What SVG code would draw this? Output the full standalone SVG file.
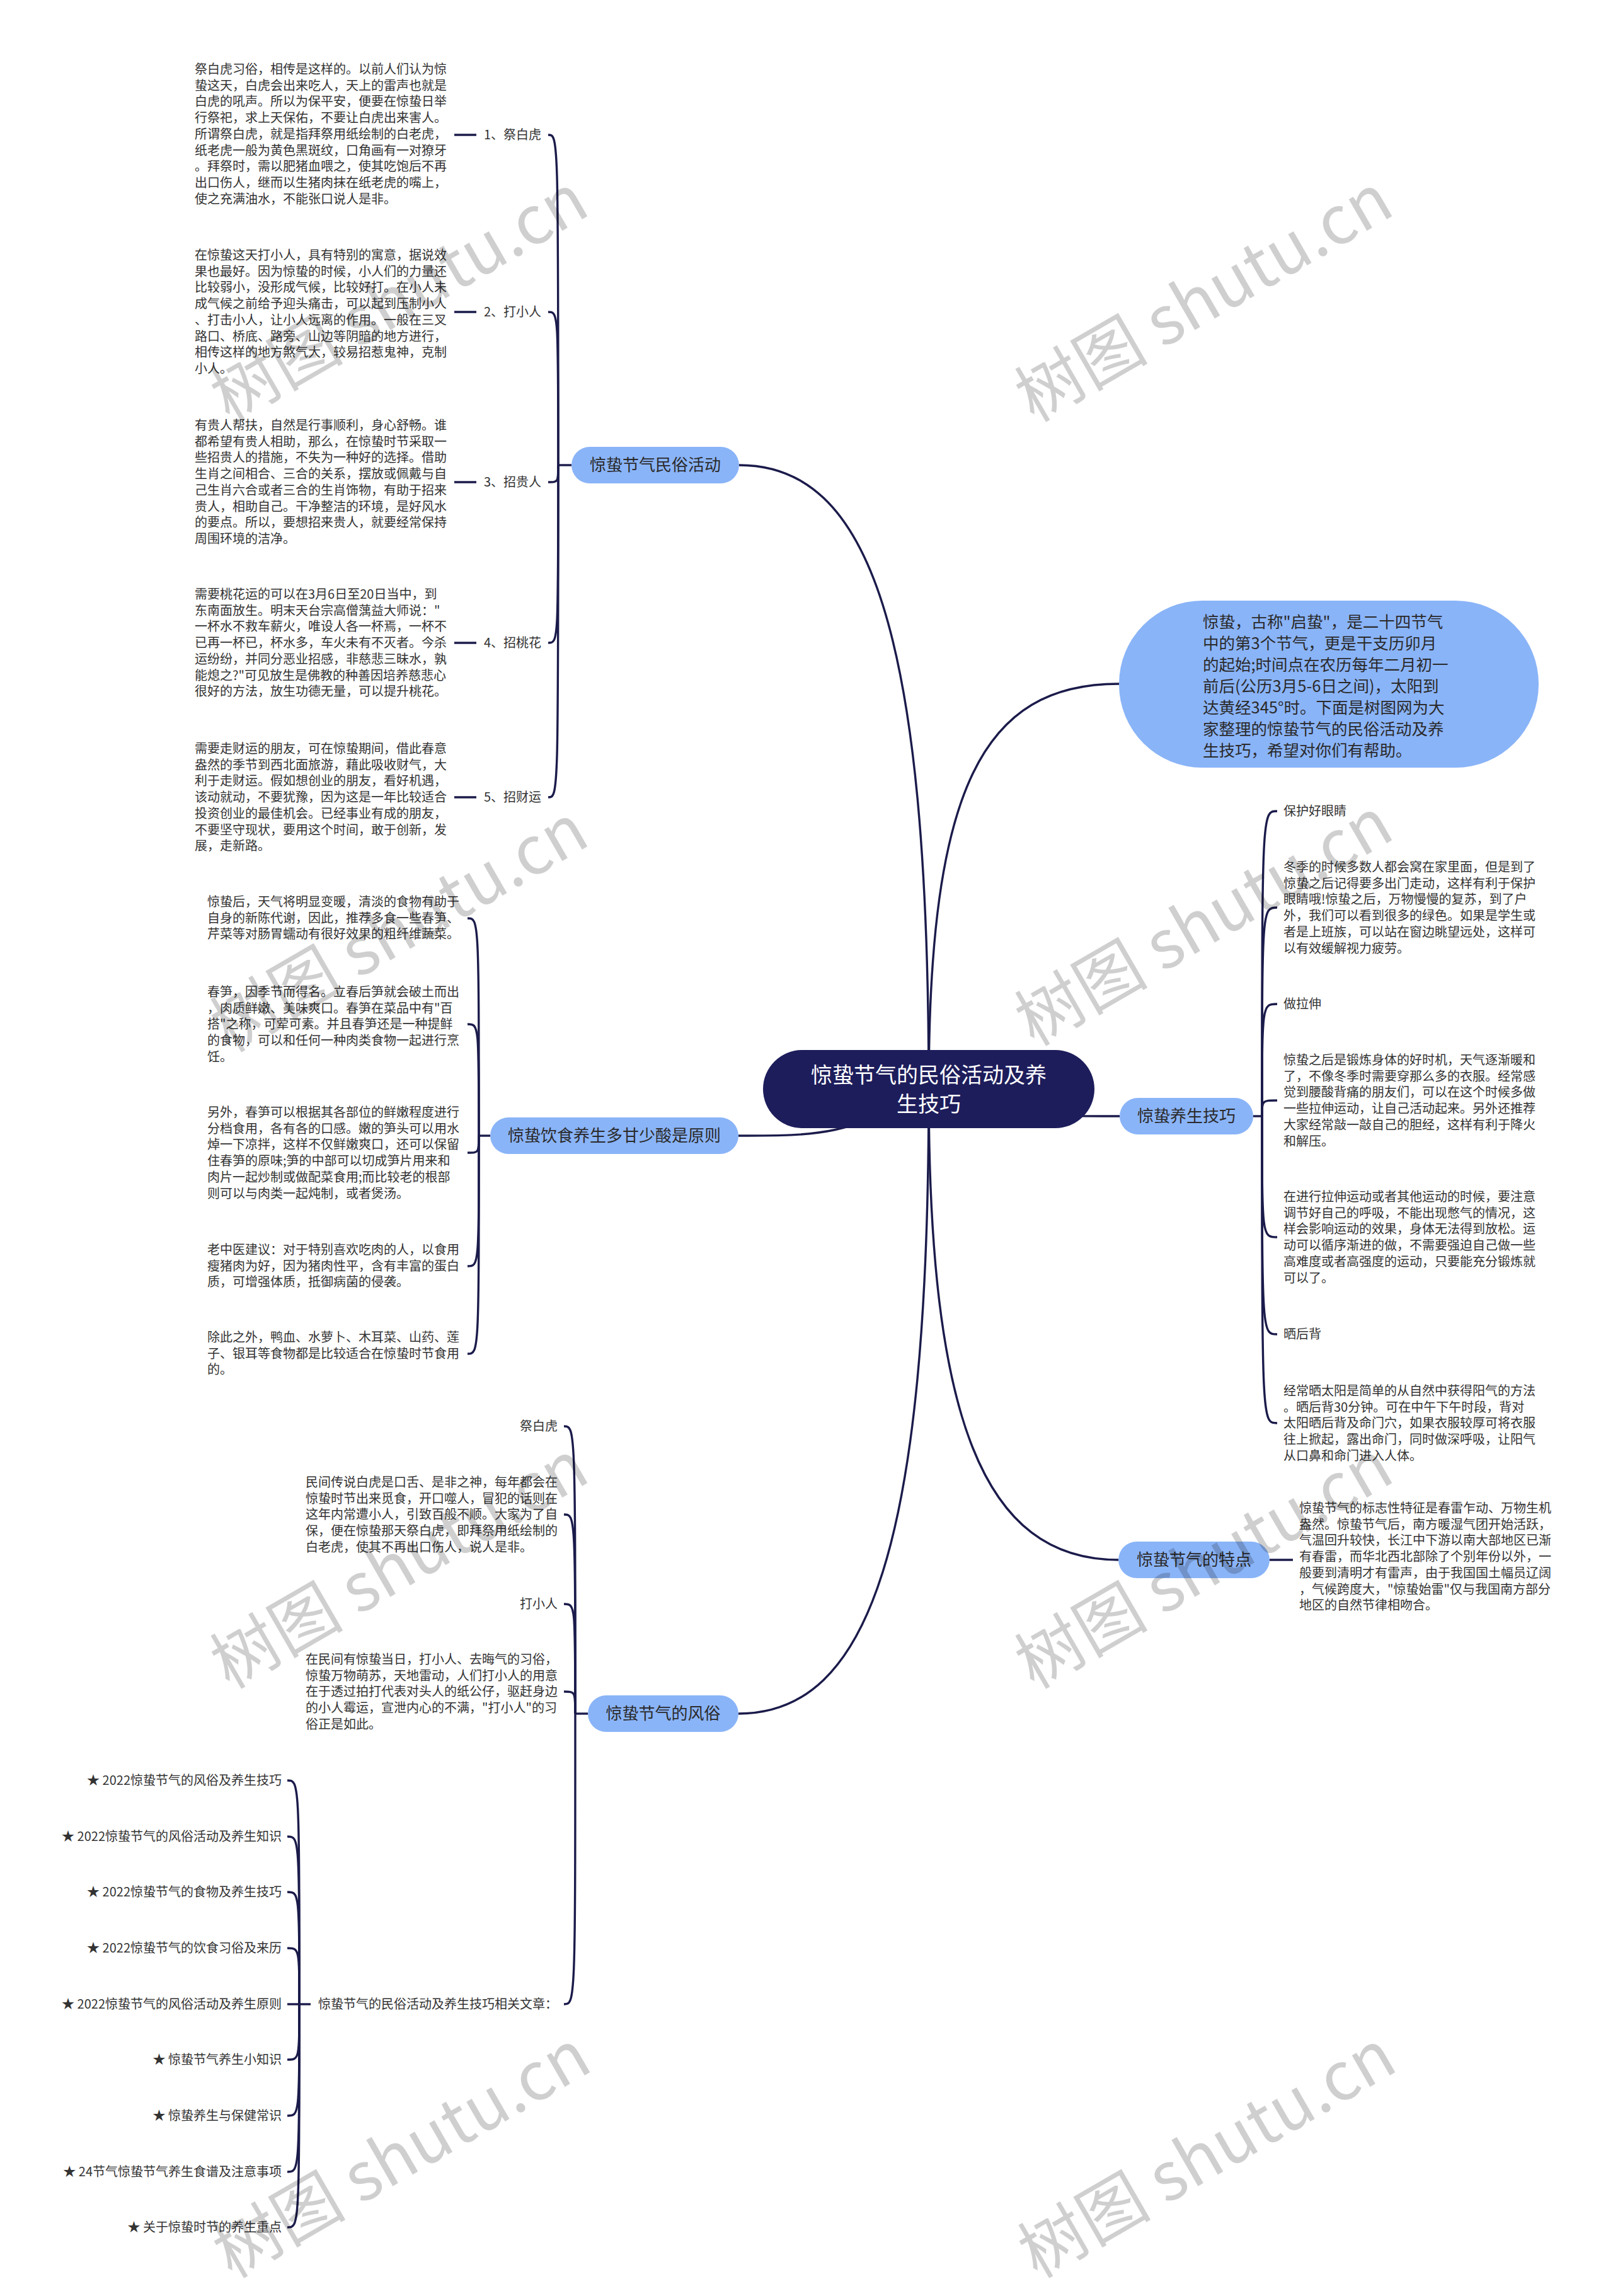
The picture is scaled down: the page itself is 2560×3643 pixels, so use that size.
<svg xmlns="http://www.w3.org/2000/svg" width="2560" height="3643" viewBox="0 0 2560 3643">
<style>
text{font-family:"Noto Sans CJK SC","Noto Sans",sans-serif}
.t{font-size:20px;fill:#333}
.b{font-size:26px;fill:#2a2a2a;text-anchor:middle}
.bn{fill:#8ab4f8}
.ln{fill:none;stroke:#1b1b4b;stroke-width:3.4}
.wm{font-family:"Liberation Serif","Noto Sans CJK SC",serif;font-size:106px;fill:#000;fill-opacity:.19;text-anchor:middle}
</style>
<rect width="2560" height="3643" fill="#fff"/>
<g id="connectors" class="ln">
<path d="M1474,1728 C1474,1000 1380,738 1173,738"/>
<path d="M1474,1728 C1474,1250 1560,1085 1776,1085"/>
<path d="M1474,1728 C1350,1802 1300,1802 1172,1802"/>
<path d="M1474,1728 C1600,1771 1650,1771 1777,1771"/>
<path d="M1474,1728 C1474,2450 1380,2719 1172,2719"/>
<path d="M1474,1728 C1474,2250 1560,2475 1775,2475"/>
<path d="M907,738 H886"/>
<path d="M886,738 C886,214 886,214 870,214"/>
<path d="M886,738 C886,495 886,495 870,495"/>
<path d="M886,738 C886,765 886,765 870,765"/>
<path d="M886,738 C886,1020 886,1020 870,1020"/>
<path d="M886,738 C886,1265 886,1265 870,1265"/>
<path d="M721,214 H756"/><path d="M721,495 H756"/><path d="M721,765 H756"/><path d="M721,1020 H756"/><path d="M721,1265 H756"/>
<path d="M778,1802 H760"/>
<path d="M760,1802 C760,1457 760,1457 742,1457"/>
<path d="M760,1802 C760,1625 760,1625 742,1625"/>
<path d="M760,1802 C760,1829 760,1829 742,1829"/>
<path d="M760,1802 C760,2009 760,2009 742,2009"/>
<path d="M760,1802 C760,2148 760,2148 742,2148"/>
<path d="M933,2719 H913"/>
<path d="M913,2719 C913,2263 913,2263 895,2263"/>
<path d="M913,2719 C913,2403 913,2403 895,2403"/>
<path d="M913,2719 C913,2545 913,2545 895,2545"/>
<path d="M913,2719 C913,2684 913,2684 895,2684"/>
<path d="M913,2719 C913,3180 913,3180 895,3180"/>
<path d="M493,3180 H475"/>
<path d="M475,3180 C475,2825 475,2825 456,2825"/>
<path d="M475,3180 C475,2914 475,2914 456,2914"/>
<path d="M475,3180 C475,3002 475,3002 456,3002"/>
<path d="M475,3180 C475,3091 475,3091 456,3091"/>
<path d="M475,3180 H456"/>
<path d="M475,3180 C475,3268 475,3268 456,3268"/>
<path d="M475,3180 C475,3357 475,3357 456,3357"/>
<path d="M475,3180 C475,3446 475,3446 456,3446"/>
<path d="M475,3180 C475,3534 475,3534 456,3534"/>
<path d="M1989,1771 H2003"/>
<path d="M2003,1771 C2003,1287 2003,1287 2027,1287"/>
<path d="M2003,1771 C2003,1440 2003,1440 2027,1440"/>
<path d="M2003,1771 C2003,1593 2003,1593 2027,1593"/>
<path d="M2003,1771 C2003,1746 2003,1746 2027,1746"/>
<path d="M2003,1771 C2003,1963 2003,1963 2027,1963"/>
<path d="M2003,1771 C2003,2117 2003,2117 2027,2117"/>
<path d="M2003,1771 C2003,2258 2003,2258 2027,2258"/>
<path d="M2015,2475 H2052"/>
</g>
<g id="root">
<rect x="1211" y="1666" width="526" height="124" rx="62" fill="#1d1d5c"/>
<text x="1474" y="1718" font-size="34" fill="#fff" text-anchor="middle">惊蛰节气的民俗活动及养</text>
<text x="1474" y="1764" font-size="34" fill="#fff" text-anchor="middle">生技巧</text>
</g>
<g id="intro">
<rect x="1776" y="953" width="666" height="265" rx="132" class="bn"/>
<text x="1909" y="996" font-size="25.5" fill="#2a2a2a"><tspan x="1909">惊蛰，古称"启蛰"，是二十四节气</tspan><tspan x="1909" dy="34">中的第3个节气，更是干支历卯月</tspan><tspan x="1909" dy="34">的起始;时间点在农历每年二月初一</tspan><tspan x="1909" dy="34">前后(公历3月5-6日之间)，太阳到</tspan><tspan x="1909" dy="34">达黄经345°时。下面是树图网为大</tspan><tspan x="1909" dy="34">家整理的惊蛰节气的民俗活动及养</tspan><tspan x="1909" dy="34">生技巧，希望对你们有帮助。</tspan></text>
</g>
<g id="minsu">
<rect x="907" y="709" width="266" height="58" rx="29" class="bn"/>
<text x="1040" y="747" class="b">惊蛰节气民俗活动</text>
</g>
<g id="ms1"><text x="768" y="221" class="t">1、祭白虎</text></g>
<g id="ms1t"><text x="309" y="117" class="t"><tspan x="309">祭白虎习俗，相传是这样的。以前人们认为惊</tspan><tspan x="309" dy="25.7">蛰这天，白虎会出来吃人，天上的雷声也就是</tspan><tspan x="309" dy="25.7">白虎的吼声。所以为保平安，便要在惊蛰日举</tspan><tspan x="309" dy="25.7">行祭祀，求上天保佑，不要让白虎出来害人。</tspan><tspan x="309" dy="25.7">所谓祭白虎，就是指拜祭用纸绘制的白老虎，</tspan><tspan x="309" dy="25.7">纸老虎一般为黄色黑斑纹，口角画有一对獠牙</tspan><tspan x="309" dy="25.7">。拜祭时，需以肥猪血喂之，使其吃饱后不再</tspan><tspan x="309" dy="25.7">出口伤人，继而以生猪肉抹在纸老虎的嘴上，</tspan><tspan x="309" dy="25.7">使之充满油水，不能张口说人是非。</tspan></text></g>
<g id="ms2"><text x="768" y="502" class="t">2、打小人</text></g>
<g id="ms2t"><text x="309" y="412" class="t"><tspan x="309">在惊蛰这天打小人，具有特别的寓意，据说效</tspan><tspan x="309" dy="25.7">果也最好。因为惊蛰的时候，小人们的力量还</tspan><tspan x="309" dy="25.7">比较弱小，没形成气候，比较好打。在小人未</tspan><tspan x="309" dy="25.7">成气候之前给予迎头痛击，可以起到压制小人</tspan><tspan x="309" dy="25.7">、打击小人，让小人远离的作用。一般在三叉</tspan><tspan x="309" dy="25.7">路口、桥底、路旁、山边等阴暗的地方进行，</tspan><tspan x="309" dy="25.7">相传这样的地方煞气大，较易招惹鬼神，克制</tspan><tspan x="309" dy="25.7">小人。</tspan></text></g>
<g id="ms3"><text x="768" y="772" class="t">3、招贵人</text></g>
<g id="ms3t"><text x="309" y="682" class="t"><tspan x="309">有贵人帮扶，自然是行事顺利，身心舒畅。谁</tspan><tspan x="309" dy="25.7">都希望有贵人相助，那么，在惊蛰时节采取一</tspan><tspan x="309" dy="25.7">些招贵人的措施，不失为一种好的选择。借助</tspan><tspan x="309" dy="25.7">生肖之间相合、三合的关系，摆放或佩戴与自</tspan><tspan x="309" dy="25.7">己生肖六合或者三合的生肖饰物，有助于招来</tspan><tspan x="309" dy="25.7">贵人，相助自己。干净整洁的环境，是好风水</tspan><tspan x="309" dy="25.7">的要点。所以，要想招来贵人，就要经常保持</tspan><tspan x="309" dy="25.7">周围环境的洁净。</tspan></text></g>
<g id="ms4"><text x="768" y="1027" class="t">4、招桃花</text></g>
<g id="ms4t"><text x="309" y="950" class="t"><tspan x="309">需要桃花运的可以在3月6日至20日当中，到</tspan><tspan x="309" dy="25.7">东南面放生。明末天台宗高僧蕅益大师说："</tspan><tspan x="309" dy="25.7">一杯水不救车薪火，唯设人各一杯焉，一杯不</tspan><tspan x="309" dy="25.7">已再一杯已，杯水多，车火未有不灭者。今杀</tspan><tspan x="309" dy="25.7">运纷纷，并同分恶业招感，非慈悲三昧水，孰</tspan><tspan x="309" dy="25.7">能熄之?"可见放生是佛教的种善因培养慈悲心</tspan><tspan x="309" dy="25.7">很好的方法，放生功德无量，可以提升桃花。</tspan></text></g>
<g id="ms5"><text x="768" y="1272" class="t">5、招财运</text></g>
<g id="ms5t"><text x="309" y="1195" class="t"><tspan x="309">需要走财运的朋友，可在惊蛰期间，借此春意</tspan><tspan x="309" dy="25.7">盎然的季节到西北面旅游，藉此吸收财气，大</tspan><tspan x="309" dy="25.7">利于走财运。假如想创业的朋友，看好机遇，</tspan><tspan x="309" dy="25.7">该动就动，不要犹豫，因为这是一年比较适合</tspan><tspan x="309" dy="25.7">投资创业的最佳机会。已经事业有成的朋友，</tspan><tspan x="309" dy="25.7">不要坚守现状，要用这个时间，敢于创新，发</tspan><tspan x="309" dy="25.7">展，走新路。</tspan></text></g>
<g id="food">
<rect x="778" y="1773" width="394" height="58" rx="29" class="bn"/>
<text x="975" y="1811" class="b">惊蛰饮食养生多甘少酸是原则</text>
</g>
<g id="f1"><text x="329" y="1438" class="t"><tspan x="329">惊蛰后，天气将明显变暖，清淡的食物有助于</tspan><tspan x="329" dy="25.7">自身的新陈代谢，因此，推荐多食一些春笋、</tspan><tspan x="329" dy="25.7">芹菜等对肠胃蠕动有很好效果的粗纤维蔬菜。</tspan></text></g>
<g id="f2"><text x="329" y="1581" class="t"><tspan x="329">春笋，因季节而得名。立春后笋就会破土而出</tspan><tspan x="329" dy="25.7">，肉质鲜嫩、美味爽口。春笋在菜品中有"百</tspan><tspan x="329" dy="25.7">搭"之称，可荤可素。并且春笋还是一种提鲜</tspan><tspan x="329" dy="25.7">的食物，可以和任何一种肉类食物一起进行烹</tspan><tspan x="329" dy="25.7">饪。</tspan></text></g>
<g id="f3"><text x="329" y="1772" class="t"><tspan x="329">另外，春笋可以根据其各部位的鲜嫩程度进行</tspan><tspan x="329" dy="25.7">分档食用，各有各的口感。嫩的笋头可以用水</tspan><tspan x="329" dy="25.7">焯一下凉拌，这样不仅鲜嫩爽口，还可以保留</tspan><tspan x="329" dy="25.7">住春笋的原味;笋的中部可以切成笋片用来和</tspan><tspan x="329" dy="25.7">肉片一起炒制或做配菜食用;而比较老的根部</tspan><tspan x="329" dy="25.7">则可以与肉类一起炖制，或者煲汤。</tspan></text></g>
<g id="f4"><text x="329" y="1990" class="t"><tspan x="329">老中医建议：对于特别喜欢吃肉的人，以食用</tspan><tspan x="329" dy="25.7">瘦猪肉为好，因为猪肉性平，含有丰富的蛋白</tspan><tspan x="329" dy="25.7">质，可增强体质，抵御病菌的侵袭。</tspan></text></g>
<g id="f5"><text x="329" y="2129" class="t"><tspan x="329">除此之外，鸭血、水萝卜、木耳菜、山药、莲</tspan><tspan x="329" dy="25.7">子、银耳等食物都是比较适合在惊蛰时节食用</tspan><tspan x="329" dy="25.7">的。</tspan></text></g>
<g id="fengsu">
<rect x="933" y="2690" width="239" height="58" rx="29" class="bn"/>
<text x="1052.5" y="2728" class="b">惊蛰节气的风俗</text>
</g>
<g id="fs1"><text x="885" y="2270" class="t" text-anchor="end">祭白虎</text></g>
<g id="fs1t"><text x="485" y="2359" class="t"><tspan x="485">民间传说白虎是口舌、是非之神，每年都会在</tspan><tspan x="485" dy="25.7">惊蛰时节出来觅食，开口噬人，冒犯的话则在</tspan><tspan x="485" dy="25.7">这年内常遭小人，引致百般不顺。大家为了自</tspan><tspan x="485" dy="25.7">保，便在惊蛰那天祭白虎，即拜祭用纸绘制的</tspan><tspan x="485" dy="25.7">白老虎，使其不再出口伤人，说人是非。</tspan></text></g>
<g id="fs2"><text x="885" y="2552" class="t" text-anchor="end">打小人</text></g>
<g id="fs2t"><text x="485" y="2640" class="t"><tspan x="485">在民间有惊蛰当日，打小人、去晦气的习俗，</tspan><tspan x="485" dy="25.7">惊蛰万物萌苏，天地雷动，人们打小人的用意</tspan><tspan x="485" dy="25.7">在于透过拍打代表对头人的纸公仔，驱赶身边</tspan><tspan x="485" dy="25.7">的小人霉运，宣泄内心的不满，"打小人"的习</tspan><tspan x="485" dy="25.7">俗正是如此。</tspan></text></g>
<g id="related"><text x="505" y="3187" class="t">惊蛰节气的民俗活动及养生技巧相关文章：</text></g>
<g id="r1"><text x="447" y="2832" class="t" text-anchor="end">★ 2022惊蛰节气的风俗及养生技巧</text></g>
<g id="r2"><text x="447" y="2921" class="t" text-anchor="end">★ 2022惊蛰节气的风俗活动及养生知识</text></g>
<g id="r3"><text x="447" y="3009" class="t" text-anchor="end">★ 2022惊蛰节气的食物及养生技巧</text></g>
<g id="r4"><text x="447" y="3098" class="t" text-anchor="end">★ 2022惊蛰节气的饮食习俗及来历</text></g>
<g id="r5"><text x="447" y="3187" class="t" text-anchor="end">★ 2022惊蛰节气的风俗活动及养生原则</text></g>
<g id="r6"><text x="447" y="3275" class="t" text-anchor="end">★ 惊蛰节气养生小知识</text></g>
<g id="r7"><text x="447" y="3364" class="t" text-anchor="end">★ 惊蛰养生与保健常识</text></g>
<g id="r8"><text x="447" y="3453" class="t" text-anchor="end">★ 24节气惊蛰节气养生食谱及注意事项</text></g>
<g id="r9"><text x="447" y="3541" class="t" text-anchor="end">★ 关于惊蛰时节的养生重点</text></g>
<g id="yangsheng">
<rect x="1777" y="1742" width="212" height="58" rx="29" class="bn"/>
<text x="1883" y="1780" class="b">惊蛰养生技巧</text>
</g>
<g id="ys1"><text x="2037" y="1294" class="t">保护好眼睛</text></g>
<g id="ys1t"><text x="2037" y="1383" class="t"><tspan x="2037">冬季的时候多数人都会窝在家里面，但是到了</tspan><tspan x="2037" dy="25.7">惊蛰之后记得要多出门走动，这样有利于保护</tspan><tspan x="2037" dy="25.7">眼睛哦!惊蛰之后，万物慢慢的复苏，到了户</tspan><tspan x="2037" dy="25.7">外，我们可以看到很多的绿色。如果是学生或</tspan><tspan x="2037" dy="25.7">者是上班族，可以站在窗边眺望远处，这样可</tspan><tspan x="2037" dy="25.7">以有效缓解视力疲劳。</tspan></text></g>
<g id="ys2"><text x="2037" y="1600" class="t">做拉伸</text></g>
<g id="ys2t"><text x="2037" y="1689" class="t"><tspan x="2037">惊蛰之后是锻炼身体的好时机，天气逐渐暖和</tspan><tspan x="2037" dy="25.7">了，不像冬季时需要穿那么多的衣服。经常感</tspan><tspan x="2037" dy="25.7">觉到腰酸背痛的朋友们，可以在这个时候多做</tspan><tspan x="2037" dy="25.7">一些拉伸运动，让自己活动起来。另外还推荐</tspan><tspan x="2037" dy="25.7">大家经常敲一敲自己的胆经，这样有利于降火</tspan><tspan x="2037" dy="25.7">和解压。</tspan></text></g>
<g id="ys3t"><text x="2037" y="1906" class="t"><tspan x="2037">在进行拉伸运动或者其他运动的时候，要注意</tspan><tspan x="2037" dy="25.7">调节好自己的呼吸，不能出现憋气的情况，这</tspan><tspan x="2037" dy="25.7">样会影响运动的效果，身体无法得到放松。运</tspan><tspan x="2037" dy="25.7">动可以循序渐进的做，不需要强迫自己做一些</tspan><tspan x="2037" dy="25.7">高难度或者高强度的运动，只要能充分锻炼就</tspan><tspan x="2037" dy="25.7">可以了。</tspan></text></g>
<g id="ys4"><text x="2037" y="2124" class="t">晒后背</text></g>
<g id="ys4t"><text x="2037" y="2214" class="t"><tspan x="2037">经常晒太阳是简单的从自然中获得阳气的方法</tspan><tspan x="2037" dy="25.7">。晒后背30分钟。可在中午下午时段，背对</tspan><tspan x="2037" dy="25.7">太阳晒后背及命门穴，如果衣服较厚可将衣服</tspan><tspan x="2037" dy="25.7">往上掀起，露出命门，同时做深呼吸，让阳气</tspan><tspan x="2037" dy="25.7">从口鼻和命门进入人体。</tspan></text></g>
<g id="tedian">
<rect x="1775" y="2446" width="240" height="58" rx="29" class="bn"/>
<text x="1895" y="2484" class="b">惊蛰节气的特点</text>
</g>
<g id="td1"><text x="2062" y="2400" class="t"><tspan x="2062">惊蛰节气的标志性特征是春雷乍动、万物生机</tspan><tspan x="2062" dy="25.7">盎然。惊蛰节气后，南方暖湿气团开始活跃，</tspan><tspan x="2062" dy="25.7">气温回升较快，长江中下游以南大部地区已渐</tspan><tspan x="2062" dy="25.7">有春雷，而华北西北部除了个别年份以外，一</tspan><tspan x="2062" dy="25.7">般要到清明才有雷声，由于我国国土幅员辽阔</tspan><tspan x="2062" dy="25.7">，气候跨度大，"惊蛰始雷"仅与我国南方部分</tspan><tspan x="2062" dy="25.7">地区的自然节律相吻合。</tspan></text></g>
<g id="watermarks" class="wm">
<text transform="translate(652,505) rotate(-30)">树图 shutu.cn</text>
<text transform="translate(1929,505) rotate(-30)">树图 shutu.cn</text>
<text transform="translate(652,1505) rotate(-30)">树图 shutu.cn</text>
<text transform="translate(1929,1495) rotate(-30)">树图 shutu.cn</text>
<text transform="translate(652,2515) rotate(-30)">树图 shutu.cn</text>
<text transform="translate(1929,2515) rotate(-30)">树图 shutu.cn</text>
<text transform="translate(656,3450) rotate(-30)">树图 shutu.cn</text>
<text transform="translate(1934,3450) rotate(-30)">树图 shutu.cn</text>
</g>
</svg>
